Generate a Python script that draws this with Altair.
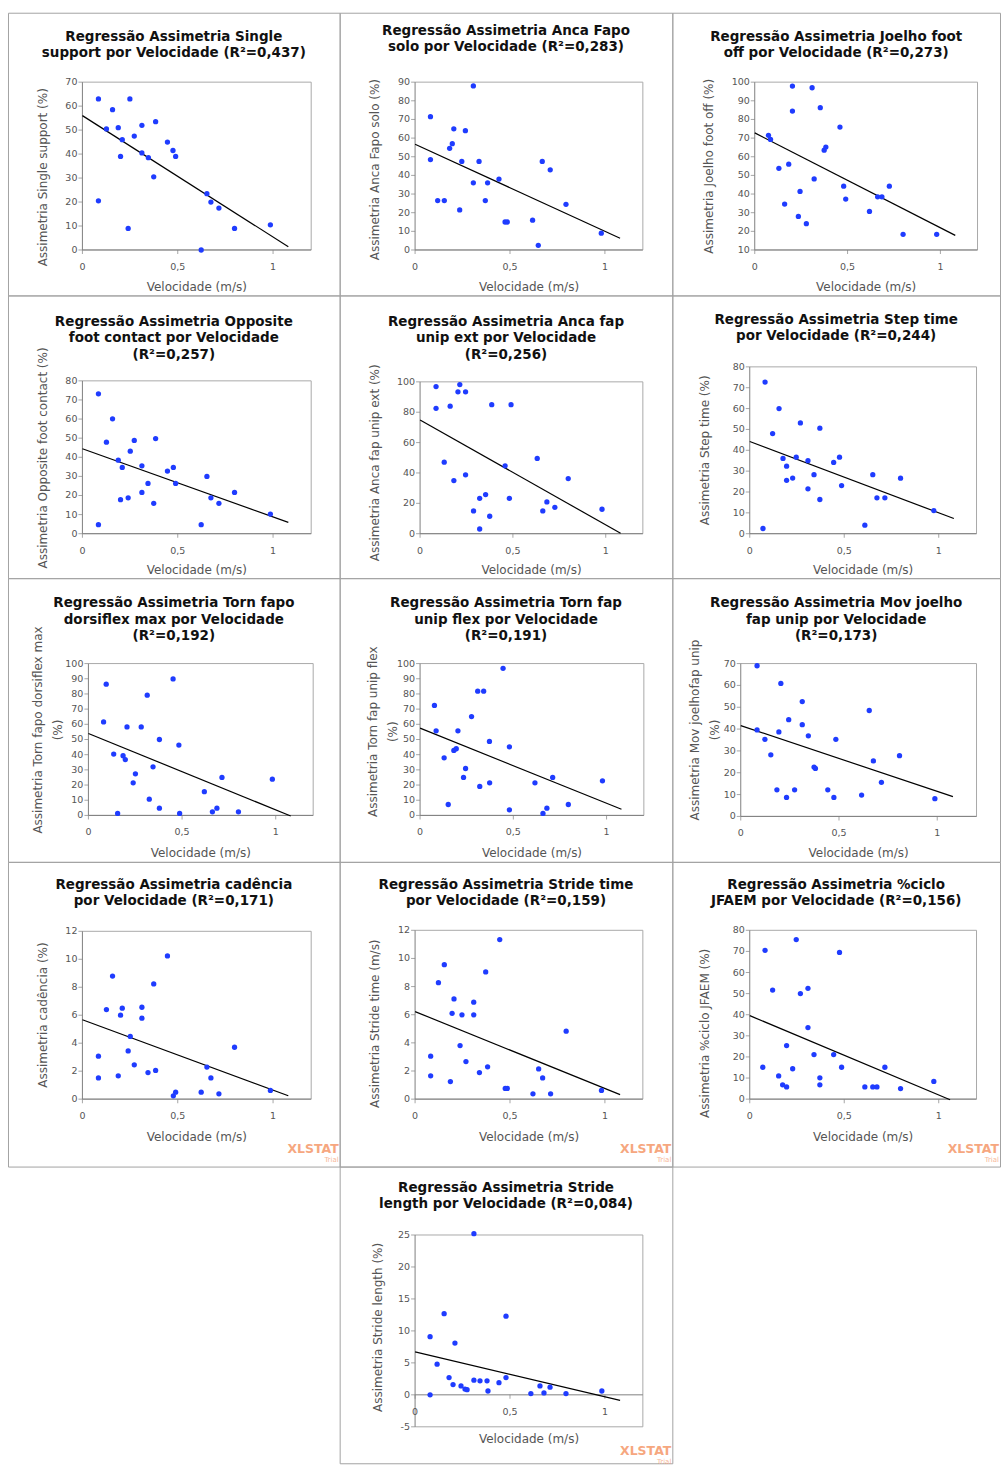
import altair as alt
import pandas as pd

FONT = "DejaVu Sans"
BLUE = "#1f3cff"
AXIS_GRAY = "#808080"
FRAME_GRAY = "#a9a9a9"
TEXT_GRAY = "#555555"
WM_COLOR = "#f6a77f"
X_MAX = 1.2

TITLES = [
    ["Regressão Assimetria Single", "support por Velocidade (R²=0,437)"],
    ["Regressão Assimetria Anca Fapo", "solo por Velocidade (R²=0,283)"],
    ["Regressão Assimetria Joelho foot", "off por Velocidade (R²=0,273)"],
    ["Regressão Assimetria Opposite", "foot contact por Velocidade", "(R²=0,257)"],
    ["Regressão Assimetria Anca fap", "unip ext por Velocidade", "(R²=0,256)"],
    ["Regressão Assimetria Step time", "por Velocidade (R²=0,244)"],
    ["Regressão Assimetria Torn fapo", "dorsiflex max por Velocidade", "(R²=0,192)"],
    ["Regressão Assimetria Torn fap", "unip flex por Velocidade", "(R²=0,191)"],
    ["Regressão Assimetria Mov joelho", "fap unip por Velocidade", "(R²=0,173)"],
    ["Regressão Assimetria cadência", "por Velocidade (R²=0,171)"],
    ["Regressão Assimetria Stride time", "por Velocidade (R²=0,159)"],
    ["Regressão Assimetria %ciclo", "JFAEM por Velocidade (R²=0,156)"],
    ["Regressão Assimetria Stride", "length por Velocidade (R²=0,084)"],
]

Y_TITLES = [
    "Assimetria Single support (%)",
    "Assimetria Anca Fapo solo (%)",
    "Assimetria Joelho foot off (%)",
    "Assimetria Opposite foot contact (%)",
    "Assimetria Anca fap unip ext (%)",
    "Assimetria Step time (%)",
    ["Assimetria Torn fapo dorsiflex max", "(%)"],
    ["Assimetria Torn fap unip flex", "(%)"],
    ["Assimetria Mov joelhofap unip", "(%)"],
    "Assimetria cadência (%)",
    "Assimetria Stride time (m/s)",
    "Assimetria %ciclo JFAEM (%)",
    "Assimetria Stride length (%)",
]
X_TITLE = "Velocidade (m/s)"

X1 = [0.084, 0.084, 0.126, 0.158, 0.188, 0.2, 0.209, 0.24, 0.249, 0.272, 0.312, 0.312, 0.346, 0.374, 0.384, 0.446, 0.475, 0.489, 0.623, 0.653, 0.674, 0.716, 0.798, 0.986]
Y1 = [63, 20.5, 50.5, 58.5, 51, 39, 46, 9, 63, 47.5, 52, 40.5, 38.5, 30.5, 53.5, 45, 41.5, 39, 0, 23.5, 20, 17.5, 9, 10.5]

X2 = [0.081, 0.081, 0.119, 0.154, 0.182, 0.196, 0.204, 0.235, 0.246, 0.265, 0.307, 0.307, 0.337, 0.37, 0.382, 0.442, 0.474, 0.486, 0.619, 0.649, 0.67, 0.712, 0.795, 0.981]
Y2 = [71.5, 48.5, 26.5, 26.5, 54.5, 57, 65, 21.5, 47.5, 64, 88, 36, 47.5, 26.5, 36, 38, 15, 15, 16, 2.5, 47.5, 43, 24.5, 9]

X3 = [0.074, 0.085, 0.13, 0.161, 0.183, 0.203, 0.203, 0.235, 0.244, 0.278, 0.309, 0.32, 0.353, 0.374, 0.383, 0.459, 0.479, 0.49, 0.618, 0.662, 0.685, 0.725, 0.799, 0.98]
Y3 = [71.5, 69.3, 53.8, 34.6, 56, 97.9, 84.5, 28, 41.4, 24.1, 97, 48.1, 86.3, 63.5, 65.2, 75.9, 44.2, 37.3, 30.7, 38.5, 38.5, 44.2, 18.4, 18.4]

X4 = [0.084, 0.084, 0.126, 0.158, 0.188, 0.2, 0.209, 0.24, 0.251, 0.272, 0.312, 0.312, 0.344, 0.374, 0.384, 0.446, 0.477, 0.489, 0.623, 0.653, 0.674, 0.716, 0.798, 0.986]
Y4 = [73.2, 4.7, 47.9, 60.1, 38.5, 17.8, 34.7, 18.8, 43.2, 48.8, 35.5, 21.6, 26.3, 15.9, 49.8, 32.8, 34.7, 26.3, 4.7, 30, 18.8, 15.9, 21.6, 10.3]

X5 = [0.086, 0.086, 0.13, 0.162, 0.182, 0.204, 0.214, 0.245, 0.245, 0.288, 0.321, 0.321, 0.353, 0.375, 0.386, 0.458, 0.481, 0.49, 0.631, 0.661, 0.683, 0.726, 0.798, 0.98]
Y5 = [96.9, 82.6, 47.1, 84, 35, 93.4, 98.2, 93.4, 38.8, 15, 23.3, 3.1, 25.8, 11.5, 85, 44.7, 23.3, 85, 49.6, 15, 20.9, 17.4, 36.3, 16.1]

X6 = [0.07, 0.081, 0.121, 0.155, 0.176, 0.195, 0.195, 0.227, 0.246, 0.268, 0.308, 0.308, 0.34, 0.371, 0.371, 0.444, 0.475, 0.486, 0.609, 0.651, 0.673, 0.715, 0.798, 0.974]
Y6 = [2.5, 72.7, 48, 60, 36.1, 32.4, 25.6, 26.7, 36.7, 53.1, 35, 21.5, 28.3, 50.6, 16.4, 34.2, 36.7, 23.1, 4.1, 28.3, 17.2, 17.2, 26.6, 11.1]

X7 = [0.081, 0.095, 0.135, 0.156, 0.185, 0.197, 0.206, 0.239, 0.251, 0.282, 0.314, 0.325, 0.345, 0.379, 0.379, 0.452, 0.483, 0.487, 0.619, 0.662, 0.686, 0.713, 0.801, 0.982]
Y7 = [61.6, 86.4, 40.4, 1.3, 39.3, 36.8, 58.3, 21.5, 27.4, 58.3, 79.2, 10.7, 32, 4.8, 50, 89.9, 46.3, 1.3, 15.6, 2.4, 4.8, 25, 2.4, 23.9]

X8 = [0.077, 0.086, 0.129, 0.151, 0.181, 0.194, 0.203, 0.233, 0.244, 0.276, 0.309, 0.32, 0.341, 0.372, 0.373, 0.445, 0.479, 0.479, 0.616, 0.659, 0.68, 0.711, 0.795, 0.978]
Y8 = [72.4, 55.7, 37.9, 7.2, 42.8, 43.9, 55.7, 25, 30.9, 65.1, 81.8, 19.1, 81.8, 48.7, 21.5, 96.9, 45.2, 3.7, 21.5, 1.3, 4.8, 25, 7.2, 22.8]

X9 = [0.083, 0.083, 0.123, 0.153, 0.184, 0.194, 0.204, 0.233, 0.244, 0.274, 0.313, 0.313, 0.344, 0.373, 0.38, 0.443, 0.474, 0.484, 0.615, 0.654, 0.675, 0.716, 0.808, 0.988]
Y9 = [69, 39.6, 35.3, 28.2, 12.2, 38.7, 60.9, 8.7, 44.3, 12.2, 52.6, 42, 36.9, 22.6, 22, 12.2, 8.7, 35.3, 9.8, 48.5, 25.4, 15.6, 27.8, 8.1]

X10 = [0.084, 0.084, 0.126, 0.158, 0.188, 0.2, 0.209, 0.24, 0.251, 0.272, 0.312, 0.312, 0.344, 0.374, 0.384, 0.446, 0.477, 0.489, 0.623, 0.653, 0.674, 0.716, 0.798, 0.986]
Y10 = [3.07, 1.52, 6.4, 8.8, 1.67, 6, 6.5, 3.45, 4.48, 2.45, 6.57, 5.79, 1.9, 8.24, 2.05, 10.24, 0.24, 0.5, 0.5, 2.29, 1.52, 0.38, 3.71, 0.62]

X11 = [0.082, 0.082, 0.123, 0.154, 0.186, 0.195, 0.205, 0.237, 0.247, 0.268, 0.309, 0.309, 0.339, 0.372, 0.382, 0.446, 0.475, 0.486, 0.621, 0.651, 0.672, 0.714, 0.796, 0.982]
Y11 = [3.05, 1.66, 8.28, 9.56, 1.25, 6.1, 7.12, 3.81, 5.99, 2.67, 6.89, 5.99, 1.89, 9.04, 2.3, 11.34, 0.76, 0.76, 0.38, 2.15, 1.51, 0.38, 4.83, 0.62]

X12 = [0.069, 0.081, 0.121, 0.153, 0.174, 0.195, 0.195, 0.227, 0.246, 0.268, 0.308, 0.308, 0.34, 0.371, 0.371, 0.444, 0.475, 0.486, 0.609, 0.651, 0.673, 0.715, 0.798, 0.974]
Y12 = [15.1, 70.5, 51.7, 11, 6.8, 25.4, 5.8, 14.4, 75.6, 50, 52.5, 33.9, 21.1, 10.1, 6.8, 21.1, 69.5, 15.1, 5.8, 5.8, 5.8, 15.1, 5, 8.4]

X13 = [0.079, 0.079, 0.116, 0.153, 0.179, 0.2, 0.21, 0.242, 0.263, 0.274, 0.31, 0.31, 0.342, 0.379, 0.384, 0.442, 0.479, 0.479, 0.61, 0.658, 0.679, 0.711, 0.795, 0.984]
Y13 = [9.1, 0, 4.8, 12.7, 2.7, 1.6, 8.1, 1.4, 0.9, 0.8, 25.2, 2.3, 2.2, 2.2, 0.6, 1.9, 12.3, 2.7, 0.2, 1.4, 0.3, 1.2, 0.2, 0.6]

X_VALUES = [X1, X2, X3, X4, X5, X6, X7, X8, X9, X10, X11, X12, X13]
Y_VALUES = [Y1, Y2, Y3, Y4, Y5, Y6, Y7, Y8, Y9, Y10, Y11, Y12, Y13]

Y_TICKS = [
    [0, 10, 20, 30, 40, 50, 60, 70],
    [0, 10, 20, 30, 40, 50, 60, 70, 80, 90],
    [10, 20, 30, 40, 50, 60, 70, 80, 90, 100],
    [0, 10, 20, 30, 40, 50, 60, 70, 80],
    [0, 20, 40, 60, 80, 100],
    [0, 10, 20, 30, 40, 50, 60, 70, 80],
    [0, 10, 20, 30, 40, 50, 60, 70, 80, 90, 100],
    [0, 10, 20, 30, 40, 50, 60, 70, 80, 90, 100],
    [0, 10, 20, 30, 40, 50, 60, 70],
    [0, 2, 4, 6, 8, 10, 12],
    [0, 2, 4, 6, 8, 10, 12],
    [0, 10, 20, 30, 40, 50, 60, 70, 80],
    [-5, 0, 5, 10, 15, 20, 25],
]
X_TICKS = [0, 0.5, 1]
REG_END = [1.08, 1.08, 1.08, 1.08, 1.08, 1.08, 1.08, 1.08, 1.08, 1.08, 1.08, 1.06, 1.08]

# ---- layout (pixels inside each cell) ----
COL_W = [332, 333, 328]
ROW_H = [283, 283, 284, 305, 297]
# plot frame: left, right, top, bottom
GEOM = [
    (74.5, 303.5, 69.5, 237.5), (75.5, 303.5, 69.5, 237.5), (82.5, 305.5, 69.5, 237.5),
    (74.5, 303.5, 85.5, 238.5), (80.5, 303.5, 86.5, 238.5), (77.5, 304.5, 71.5, 238.5),
    (80.5, 305.5, 85.5, 237.5), (80.5, 304.5, 85.5, 237.5), (68.5, 304.5, 85.5, 238.5),
    (74.5, 303.5, 69.5, 237.5), (75.5, 303.5, 68.5, 237.5), (77.5, 304.5, 68.5, 237.5),
    (75.5, 303.5, 68.5, 260.5),
]
TITLE_CY = [23, 17, 23, 25, 25, 23.3, 23.7, 23.7, 23.7, 21.7, 21.7, 21.7, 20]
YTITLE_POS = [(35, 164.7), (35.3, 157), (36.7, 153.7), (34.7, 162.7), (35.3, 167.5), (32.7, 155),
              (30.5, 152), (33, 153.7), (23, 152), (34.7, 153.3), (35.3, 162), (33, 171.7), (38, 161)]
XTITLE_Y = [275] * 12 + [273]
WATERMARK = {9: 287, 10: 287, 11: 287, 12: 285}


def fmt(v):
    return ("%g" % v).replace(".", ",")


def panel(i, W, H):
    L, R, T, B = GEOM[i]
    ticks = Y_TICKS[i]
    ymin, ymax = ticks[0], ticks[-1]
    kx = X_MAX / (R - L)
    xsc = alt.Scale(domain=[-L * kx, X_MAX + (W - R) * kx], nice=False, zero=False)
    ky = (ymax - ymin) / (B - T)
    ysc = alt.Scale(domain=[ymin - (H - B) * ky, ymax + T * ky], nice=False, zero=False)
    cross = 0 if ymin < 0 < ymax else ymin
    ytx, yty = YTITLE_POS[i]

    one = pd.DataFrame({"k": [0]})
    df = pd.DataFrame({"v": X_VALUES[i], "a": Y_VALUES[i]})
    yt = pd.DataFrame({"t": ticks, "lab": [fmt(t) for t in ticks]})
    xt = pd.DataFrame({"t": X_TICKS, "lab": [fmt(t) for t in X_TICKS]})

    def X(f):
        return alt.X(f, scale=xsc, axis=None)

    def Y(f):
        return alt.Y(f, scale=ysc, axis=None)

    def XD(v):
        return alt.XDatum(v, type="quantitative", scale=xsc, axis=None)

    def YD(v):
        return alt.YDatum(v, type="quantitative", scale=ysc, axis=None)

    def hrule(yv, color):
        return alt.Chart(one).mark_rule(color=color, strokeWidth=1).encode(
            x=XD(0), x2=alt.X2Datum(X_MAX), y=YD(yv))

    def vrule(xv, color):
        return alt.Chart(one).mark_rule(color=color, strokeWidth=1).encode(
            x=XD(xv), y=YD(ymin), y2=alt.Y2Datum(ymax))

    top = hrule(ymax, FRAME_GRAY)
    bottom = hrule(ymin, FRAME_GRAY)
    right = vrule(X_MAX, FRAME_GRAY)
    vline = vrule(0, AXIS_GRAY)
    hline = hrule(cross, AXIS_GRAY)
    ytick = alt.Chart(yt).mark_tick(orient="horizontal", size=4, thickness=1,
                                    color=AXIS_GRAY, xOffset=-2).encode(x=XD(0), y=Y("t:Q"))
    xtick = alt.Chart(xt).mark_tick(orient="vertical", size=4, thickness=1,
                                    color=AXIS_GRAY, yOffset=2).encode(x=X("t:Q"), y=YD(cross))
    ylab = alt.Chart(yt).mark_text(font=FONT, fontSize=9.5, color=TEXT_GRAY, align="right",
                                   baseline="middle", dx=-5).encode(
        x=XD(0), y=Y("t:Q"), text="lab:N")
    xlab = alt.Chart(xt).mark_text(font=FONT, fontSize=9.5, color=TEXT_GRAY, align="center",
                                   baseline="middle", dy=17).encode(
        x=X("t:Q"), y=YD(cross), text="lab:N")
    pts = alt.Chart(df).mark_circle(size=28, color=BLUE, opacity=1).encode(
        x=X("v:Q"), y=Y("a:Q"))
    reg = alt.Chart(df).transform_regression("v", "a", extent=[0, REG_END[i]]).mark_line(
        color="black", strokeWidth=1.2).encode(x=X("v:Q"), y=Y("a:Q"))
    title = alt.Chart(one).mark_text(
        text=TITLES[i], font=FONT, fontSize=13.5, fontWeight="bold", color="#111111",
        align="center", baseline="top", lineHeight=16.5).encode(
        x=alt.value(W / 2), y=alt.value(TITLE_CY[i] - 5.7))
    xtitle = alt.Chart(one).mark_text(
        text=X_TITLE, font=FONT, fontSize=12, color=TEXT_GRAY, align="center",
        baseline="middle").encode(x=alt.value((L + R) / 2), y=alt.value(XTITLE_Y[i]))
    ytitle = alt.Chart(one).mark_text(
        text=Y_TITLES[i], font=FONT, fontSize=12, color=TEXT_GRAY, align="center",
        baseline="middle", angle=270, lineHeight=20).encode(
        x=alt.value(ytx), y=alt.value(yty))

    layers = [top, bottom, right, vline, hline, ytick, xtick, ylab, xlab, reg, pts,
              title, xtitle, ytitle]
    if i in WATERMARK:
        wy = WATERMARK[i]
        layers.append(alt.Chart(one).mark_text(text="XLSTAT", font=FONT, fontSize=12.5,
                                               fontWeight="bold", color=WM_COLOR, align="right",
                                               baseline="middle").encode(
            x=alt.value(W - 1), y=alt.value(wy)))
        layers.append(alt.Chart(one).mark_text(text="Trial", font=FONT, fontSize=7,
                                               color=WM_COLOR, opacity=0.8, align="right",
                                               baseline="middle").encode(
            x=alt.value(W - 1), y=alt.value(wy + 11)))

    return alt.layer(*layers).properties(width=W, height=H)


cells = []
for i in range(12):
    r, c = divmod(i, 3)
    cells.append(panel(i, COL_W[c], ROW_H[r]))
spacer = alt.Chart(pd.DataFrame({"k": [0]})).mark_point(opacity=0, size=0).encode(
    x=alt.value(100), y=alt.value(100)).properties(
    width=COL_W[0], height=ROW_H[4], view=alt.ViewBackground(strokeOpacity=0))
cells.append(spacer)
cells.append(panel(12, COL_W[1], ROW_H[4]))

chart = alt.concat(*cells, columns=3, spacing=0, bounds="flush", align="each").properties(
    padding={"left": 7, "top": 11, "right": 0, "bottom": 0},
    background="white",
).configure_view(stroke="#a3a3a3", strokeWidth=1)

chart.save("out.html", embed_options={"renderer": "svg", "actions": False})
